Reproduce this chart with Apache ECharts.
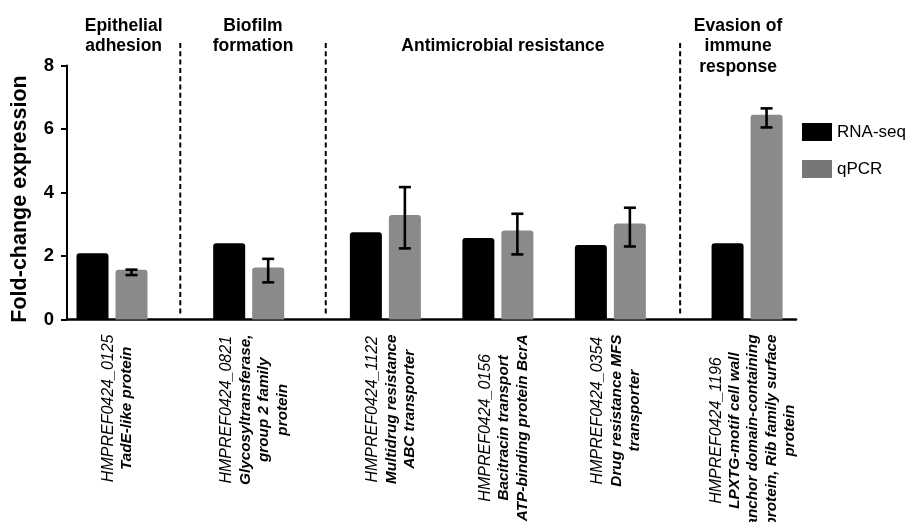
<!DOCTYPE html>
<html>
<head>
<meta charset="utf-8">
<script src="https://cdn.jsdelivr.net/npm/echarts/dist/echarts.min.js"></script>
<style>
html,body{margin:0;padding:0;background:#fff;}
#chart{width:907px;height:522px;}
</style>
</head>
<body>
<div id="chart"></div>
<script>
// ---------------- data ----------------
const geneIds = ['HMPREF0424_0125', 'HMPREF0424_0821', 'HMPREF0424_1122', 'HMPREF0424_0156', 'HMPREF0424_0354', 'HMPREF0424_1196'];
const geneDescriptions = [
  ['TadE-like protein'],
  ['Glycosyltransferase,', 'group 2 family', 'protein'],
  ['Multidrug resistance', 'ABC transporter'],
  ['Bacitracin transport', 'ATP-binding protein BcrA'],
  ['Drug resistance MFS', 'transporter'],
  ['LPXTG-motif cell wall', 'anchor domain-containing', 'protein, Rib family surface', 'protein']
];
const groupNames = ['Epithelial\nadhesion', 'Biofilm\nformation', 'Antimicrobial resistance', 'Evasion of\nimmune\nresponse'];
const geneGroup = [0, 1, 2, 2, 2, 3];
const seriesNames = ['RNA-seq', 'qPCR'];
const rnaSeq = [2.09, 2.40, 2.75, 2.57, 2.35, 2.40];
const qpcr = [1.57, 1.64, 3.29, 2.80, 3.02, 6.45];
const qpcrLow = [1.40, 1.17, 2.24, 2.05, 2.30, 6.05];
const qpcrHigh = [1.57, 1.91, 4.17, 3.33, 3.52, 6.65];
const yTicks = [0, 2, 4, 6, 8];
const yTitle = 'Fold-change expression';

// ---------------- layout (not data) ----------------
const FONT = '"Liberation Sans", Arial, Helvetica, sans-serif';
const GROUP_GAP = 0.215;
const xPos = geneGroup.map((g, i) => i + g * GROUP_GAP);
const X_MIN = -0.4, X_MAX = 6.08;
const dividerPos = [0.607, 1.90, 5.05];
const groupBounds = [X_MIN].concat(dividerPos, [X_MAX]);
const groupTitleRow = [0, 0, 1, 0];
const BAR_W = 32, BAR_OFF = 19.5;
const RNA_COLOR = '#000000', QPCR_COLOR = '#8a8a8a', QPCR_LEGEND = '#777777';

const chart = echarts.init(document.getElementById('chart'), null, {renderer: 'canvas'});

function barRender(offset, color, withErr) {
  return function (params, api) {
    const x = api.value(0), v = api.value(1);
    const base = api.coord([x, 0]);
    const top = api.coord([x, v]);
    const cx = base[0] + offset;
    const children = [{
      type: 'rect',
      shape: {x: cx - BAR_W / 2, y: top[1], width: BAR_W, height: base[1] - top[1], r: [3, 3, 0, 0]},
      style: {fill: color}
    }];
    if (withErr) {
      const lo = api.coord([x, api.value(2)])[1];
      const hi = api.coord([x, api.value(3)])[1];
      const cap = 6;
      const st = {stroke: '#000', lineWidth: 2.6, fill: null};
      children.push({type: 'line', shape: {x1: cx, y1: lo, x2: cx, y2: hi}, style: st});
      children.push({type: 'line', shape: {x1: cx - cap, y1: lo, x2: cx + cap, y2: lo}, style: st});
      children.push({type: 'line', shape: {x1: cx - cap, y1: hi, x2: cx + cap, y2: hi}, style: st});
    }
    return {type: 'group', children: children};
  };
}

const labelRich = {
  a: {fontFamily: FONT, fontSize: 16, fontStyle: 'italic', fontWeight: 'normal', color: '#000', lineHeight: 18.5, align: 'center'},
  b: {fontFamily: FONT, fontSize: 15.3, fontStyle: 'italic', fontWeight: 'bold', color: '#000', lineHeight: 18.5, align: 'center'}
};

const option = {
  animation: false,
  backgroundColor: '#ffffff',
  textStyle: {fontFamily: FONT},
  grid: {left: 67, right: 111, top: 65.5, bottom: 202.5, containLabel: false, outerBoundsMode: 'none'},
  legend: {
    orient: 'vertical', left: 802, top: 123, padding: 0,
    itemWidth: 30, itemHeight: 18, itemGap: 19, icon: 'rect',
    textStyle: {fontFamily: FONT, fontSize: 17, color: '#000'},
    data: [{name: seriesNames[0], itemStyle: {color: RNA_COLOR}}, {name: seriesNames[1], itemStyle: {color: QPCR_LEGEND}}],
    selectedMode: false
  },
  xAxis: {
    type: 'value', min: X_MIN, max: X_MAX,
    axisLine: {show: true, onZero: false, lineStyle: {color: '#000', width: 2.6}},
    axisTick: {show: false}, axisLabel: {show: false}, splitLine: {show: false}
  },
  yAxis: {
    type: 'value', min: yTicks[0], max: yTicks[yTicks.length - 1], interval: 2,
    axisLine: {show: true, onZero: false, lineStyle: {color: '#000', width: 2}},
    axisTick: {show: true, length: 6, inside: false, lineStyle: {color: '#000', width: 2}},
    axisLabel: {show: true, margin: 13, color: '#000', fontFamily: FONT, fontSize: 18.5, fontWeight: 'bold',
      formatter: v => yTicks.indexOf(v) >= 0 ? String(v) : ''},
    splitLine: {show: false}
  },
  graphic: [{
    type: 'text', x: 20, y: 199, rotation: Math.PI / 2,
    style: {text: yTitle, font: 'bold 21.5px ' + FONT, fill: '#000', align: 'center', verticalAlign: 'middle'}
  }],
  series: [
    {
      name: seriesNames[0], type: 'custom', clip: false, itemStyle: {color: RNA_COLOR},
      data: xPos.map((x, i) => [x, rnaSeq[i]]),
      encode: {x: 0, y: 1},
      renderItem: barRender(-BAR_OFF, RNA_COLOR, false)
    },
    {
      name: seriesNames[1], type: 'custom', clip: false, itemStyle: {color: QPCR_COLOR},
      data: xPos.map((x, i) => [x, qpcr[i], qpcrLow[i], qpcrHigh[i]]),
      encode: {x: 0, y: 1},
      renderItem: barRender(BAR_OFF, QPCR_COLOR, true)
    },
    {
      name: 'dividers', type: 'custom', clip: false, silent: true,
      data: dividerPos.map(d => [d, 0]),
      encode: {x: 0, y: 1},
      renderItem: function (params, api) {
        const x = api.value(0);
        const p = api.coord([x, 0]);
        return {type: 'line', shape: {x1: p[0], y1: 43, x2: p[0], y2: p[1] - 4},
          style: {stroke: '#000', lineWidth: 2, lineDash: [5, 3.3], fill: null}};
      }
    },
    {
      name: 'groupTitles', type: 'custom', clip: false, silent: true,
      data: groupNames.map((n, i) => [(groupBounds[i] + groupBounds[i + 1]) / 2, 0]),
      encode: {x: 0, y: 1},
      renderItem: function (params, api) {
        const i = params.dataIndex;
        const p = api.coord([api.value(0), 0]);
        return {type: 'text', x: p[0], y: 15.5 + groupTitleRow[i] * 20.7,
          style: {text: groupNames[i], fill: '#000', align: 'center', verticalAlign: 'top',
            font: 'bold 17.5px ' + FONT, lineHeight: 20.7}};
      }
    },
    {
      name: 'geneLabels', type: 'custom', clip: false, silent: true,
      data: xPos.map(x => [x, 0]),
      encode: {x: 0, y: 1},
      renderItem: function (params, api) {
        const i = params.dataIndex;
        const p = api.coord([api.value(0), 0]);
        const txt = ['{a|' + geneIds[i] + '}'].concat(geneDescriptions[i].map(s => '{b|' + s + '}')).join('\n');
        return {type: 'text', x: p[0] + 6, y: p[1] + 15, rotation: Math.PI / 2,
          style: {text: txt, rich: labelRich, align: 'right', verticalAlign: 'middle', fill: '#000'}};
      }
    }
  ]
};
chart.setOption(option);
</script>
</body>
</html>
